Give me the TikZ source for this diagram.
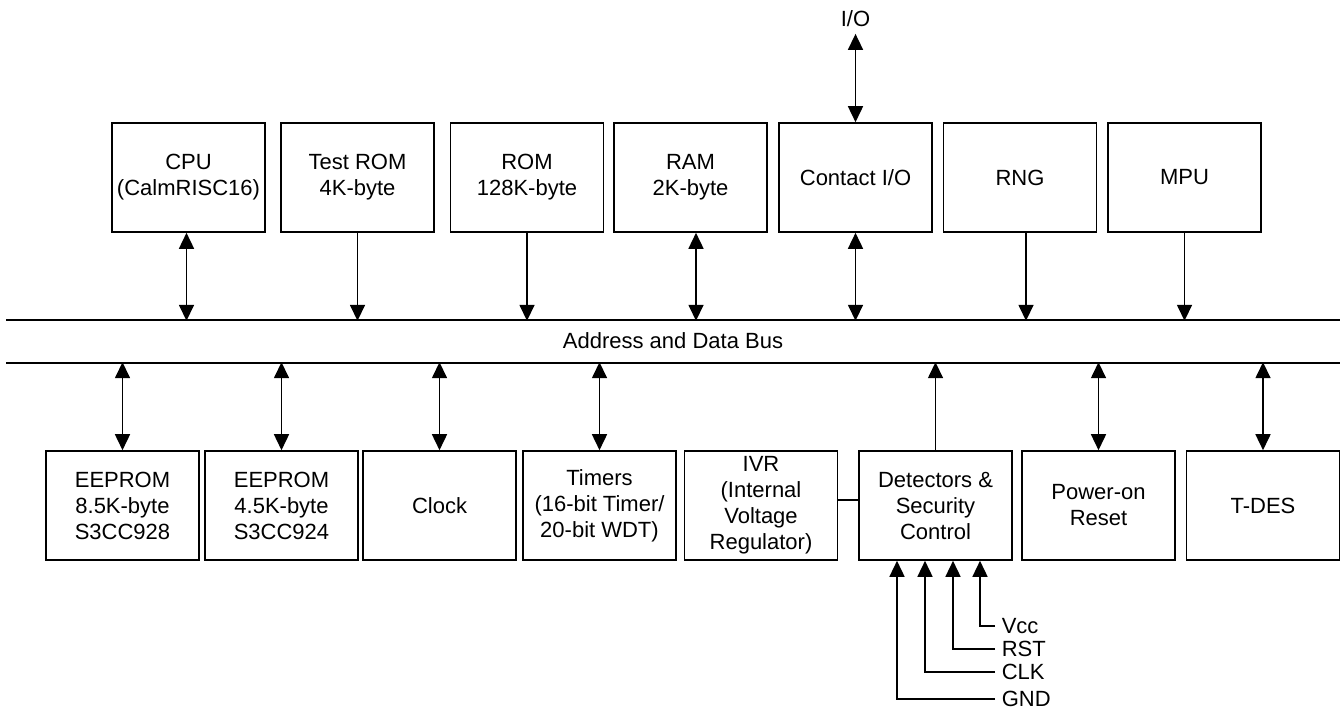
\documentclass[tikz,border=0pt]{standalone}
\usepackage{fontspec}
\setmainfont{Liberation Sans}
\usetikzlibrary{arrows.meta}
\tikzset{
  blk/.style={draw,minimum width=76.5pt,minimum height=54.5pt,inner sep=1pt,align=center,font=\fontsize{11}{13}\selectfont},
  txt/.style={inner sep=3pt,font=\fontsize{11}{13}\selectfont},
  arr/.style={-{Triangle[length=8pt,width=7.5pt]}},
  darr/.style={{Triangle[length=8pt,width=7.5pt]}-{Triangle[length=8pt,width=7.5pt]}}
}
\begin{document}
\begin{tikzpicture}[x=.5pt,y=-.5pt,line width=.8pt]
    \useasboundingbox (0,0) rectangle (1342,713);
    % bus
    \coordinate (busTL) at (6,320);
    \coordinate (busTR) at (1340,320);
    \coordinate (busBL) at (6,363);
    \coordinate (busBR) at (1340,363);
    \draw (busTL) -- (busTR);
    \draw (busBL) -- (busBR);
    \node[txt] (bus) at (673,341) {Address and Data Bus};
    % top row
    \foreach \n/\x/\lbl in {cpu/188.5/{CPU\\(CalmRISC16)}, trom/357.5/{Test ROM\\4K-byte},
        rom/527/{ROM\\128K-byte}, ram/690.5/{RAM\\2K-byte}, cio/855.5/{Contact I/O},
        rng/1020/{RNG}, mpu/1184.5/{MPU}}
    \node[blk] (\n) at (\x,177.5) {\lbl};
    \foreach \n/\s/\d in {cpu/darr/-1, trom/arr/0, rom/arr/0, ram/darr/2.75,
        cio/darr/0, rng/arr/3, mpu/arr/0}
    \draw[\s] ([xshift=\d pt]\n.south) -- ++(0,88);
    \node[txt] (io) at (855.5,19) {I/O};
    \draw[darr] (cio.north) -- (io.south);
    % bottom row
    \foreach \n/\x/\lbl in {ee1/122.5/{EEPROM\\8.5K-byte\\S3CC928}, ee2/281.5/{EEPROM\\4.5K-byte\\S3CC924},
        clock/439.5/{Clock}, tmr/599.5/{Timers\\(16-bit Timer/\\20-bit WDT)},
        ivr/761/{IVR\\(Internal\\Voltage\\Regulator)}, det/935.5/{Detectors \&\\Security\\Control},
        por/1098.5/{Power-on\\Reset}, tdes/1263/{T-DES}}
    \node[blk] (\n) at (\x,505.5) {\lbl};
    \foreach \n in {ee1,ee2,clock,tmr,por,tdes}
    \draw[darr] (\n.north) -- ++(0,-88);
    \draw[arr] (det.north) -- ++(0,-88);
    \draw ([yshift=2.75pt]ivr.east) -- ([yshift=2.75pt]det.west);
    % detector inputs
    \foreach \n/\lbl/\d/\y in {vcc/Vcc/22.25/626, rst/RST/8.75/649, clkin/CLK/-5.25/672, gnd/GND/-19.25/699}
    {
    \node[txt,anchor=west] (\n) at (995,\y) {\lbl};
    \draw[arr] (\n.west) -| ([xshift=\d pt]det.south);
    }
\end{tikzpicture}
\end{document}
